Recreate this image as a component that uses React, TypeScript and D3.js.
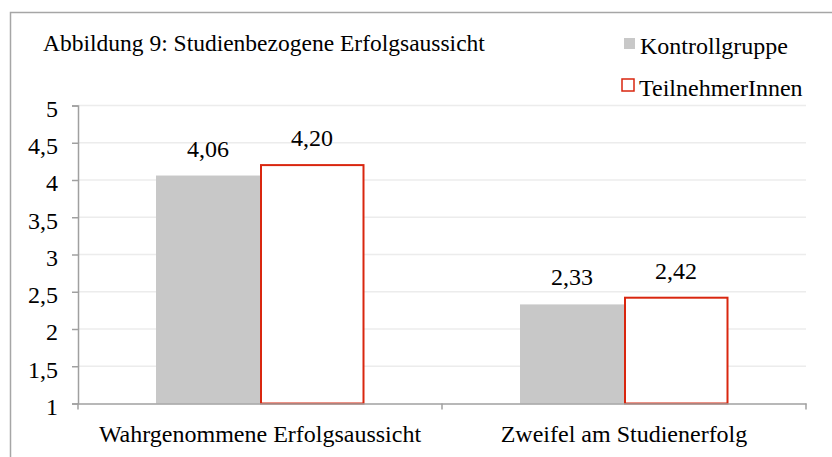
import { useEffect, useRef } from "react";
import * as d3 from "d3";

const categories = ["Wahrgenommene Erfolgsaussicht", "Zweifel am Studienerfolg"];
const seriesNames = ["Kontrollgruppe", "TeilnehmerInnen"];
const kontrollgruppe = [4.06, 2.33];
const teilnehmer = [4.2, 2.42];
const yTicks = [1, 1.5, 2, 2.5, 3, 3.5, 4, 4.5, 5];

const W = 832;
const H = 457;
const FONT = "Liberation Serif, Times New Roman, Times, serif";
const FS = 24;

export default function App() {
  const ref = useRef<SVGSVGElement>(null);

  useEffect(() => {
    if (!ref.current) return;
    const svg = d3.select(ref.current);
    svg.selectAll("*").remove();

    const left = 78;
    const right = 806;
    const top = 105.5;
    const bottom = 403.5;

    // outer frame (right/bottom run off the picture)
    svg
      .append("rect")
      .attr("x", 10.5)
      .attr("y", 12.5)
      .attr("width", 840)
      .attr("height", 470)
      .attr("fill", "white")
      .attr("stroke", "#a6a6a6")
      .attr("stroke-width", 1.5);

    const x0 = d3.scaleBand().domain(categories).range([left, right]).paddingInner(0).paddingOuter(0);
    const x1 = d3
      .scaleBand()
      .domain(seriesNames)
      .range([0, x0.bandwidth()])
      .paddingInner(0)
      .paddingOuter(0.75);
    const y = d3.scaleLinear().domain([1, 5]).range([bottom, top]);

    const fmt = (v: number) => v.toString().replace(".", ",");
    const fmt2 = (v: number) => v.toFixed(2).replace(".", ",");

    // gridlines
    svg
      .append("g")
      .selectAll("line")
      .data(yTicks.filter((t) => t > 1))
      .join("line")
      .attr("x1", left)
      .attr("x2", right)
      .attr("y1", (d) => y(d))
      .attr("y2", (d) => y(d))
      .attr("stroke", "#ececec")
      .attr("stroke-width", 1.5);

    // bars
    const series = [
      { name: seriesNames[0], values: kontrollgruppe },
      { name: seriesNames[1], values: teilnehmer },
    ];
    series.forEach((s, si) => {
      const g = svg.append("g");
      g.selectAll("rect")
        .data(s.values)
        .join("rect")
        .attr("x", (_, i) => x0(categories[i])! + x1(s.name)! + (si === 1 ? 1 : 0))
        .attr("y", (d) => y(d))
        .attr("width", x1.bandwidth() - (si === 1 ? 1.5 : 0))
        .attr("height", (d) => y(1) - y(d))
        .attr("fill", si === 0 ? "#c8c8c8" : "white")
        .attr("stroke", si === 0 ? "none" : "#d9260f")
        .attr("stroke-width", 2);
      g.selectAll("text")
        .data(s.values)
        .join("text")
        .attr("x", (_, i) => x0(categories[i])! + x1(s.name)! + x1.bandwidth() / 2)
        .attr("y", (d) => y(d) - 19)
        .attr("text-anchor", "middle")
        .style("font-family", FONT)
        .style("font-size", `${FS}px`)
        .attr("fill", "#000")
        .text((d) => fmt2(d));
    });

    // y axis
    const yAxis = svg
      .append("g")
      .attr("transform", `translate(${left},0)`)
      .call(
        d3
          .axisLeft(y)
          .tickValues(yTicks)
          .tickSize(6)
          .tickPadding(14)
          .tickFormat((d) => fmt(d as number))
      );
    yAxis.select(".domain").attr("stroke", "#a0a0a0").attr("stroke-width", 1.5);
    yAxis.selectAll(".tick line").attr("stroke", "#a0a0a0").attr("stroke-width", 1.5);
    yAxis
      .selectAll(".tick text")
      .attr("dy", "0.45em")
      .style("font-family", FONT)
      .style("font-size", `${FS}px`)
      .attr("fill", "#000");

    // x axis
    const xAxis = svg
      .append("g")
      .attr("transform", `translate(0,${bottom})`)
      .call(d3.axisBottom(x0).tickSize(0).tickPadding(21));
    xAxis.select(".domain").attr("stroke", "#a0a0a0").attr("stroke-width", 1.5);
    xAxis
      .selectAll(".tick text")
      .style("font-family", FONT)
      .style("font-size", `${FS}px`)
      .attr("fill", "#000");
    // category separators
    svg
      .append("g")
      .selectAll("line")
      .data([left, x0(categories[1])!, right])
      .join("line")
      .attr("x1", (d) => d)
      .attr("x2", (d) => d)
      .attr("y1", bottom)
      .attr("y2", bottom + 6)
      .attr("stroke", "#a0a0a0")
      .attr("stroke-width", 1.5);

    // title
    svg
      .append("text")
      .attr("x", 43)
      .attr("y", 51)
      .style("font-family", FONT)
      .style("font-size", "23.5px")
      .attr("fill", "#000")
      .text("Abbildung 9: Studienbezogene Erfolgsaussicht");

    // legend
    const legend = svg.append("g");
    legend
      .append("rect")
      .attr("x", 624)
      .attr("y", 38)
      .attr("width", 11)
      .attr("height", 11)
      .attr("fill", "#c8c8c8");
    legend
      .append("text")
      .attr("x", 640)
      .attr("y", 54)
      .style("font-family", FONT)
      .style("font-size", `${FS}px`)
      .text(seriesNames[0]);
    legend
      .append("rect")
      .attr("x", 622)
      .attr("y", 79)
      .attr("width", 12)
      .attr("height", 12)
      .attr("fill", "white")
      .attr("stroke", "#d9260f")
      .attr("stroke-width", 1.5);
    legend
      .append("text")
      .attr("x", 639)
      .attr("y", 96)
      .style("font-family", FONT)
      .style("font-size", `${FS}px`)
      .text(seriesNames[1]);
  }, []);

  return (
    <div style={{ position: "fixed", left: 0, top: 0 }}>
      <svg ref={ref} width={W} height={H} style={{ display: "block", background: "white" }} />
    </div>
  );
}
